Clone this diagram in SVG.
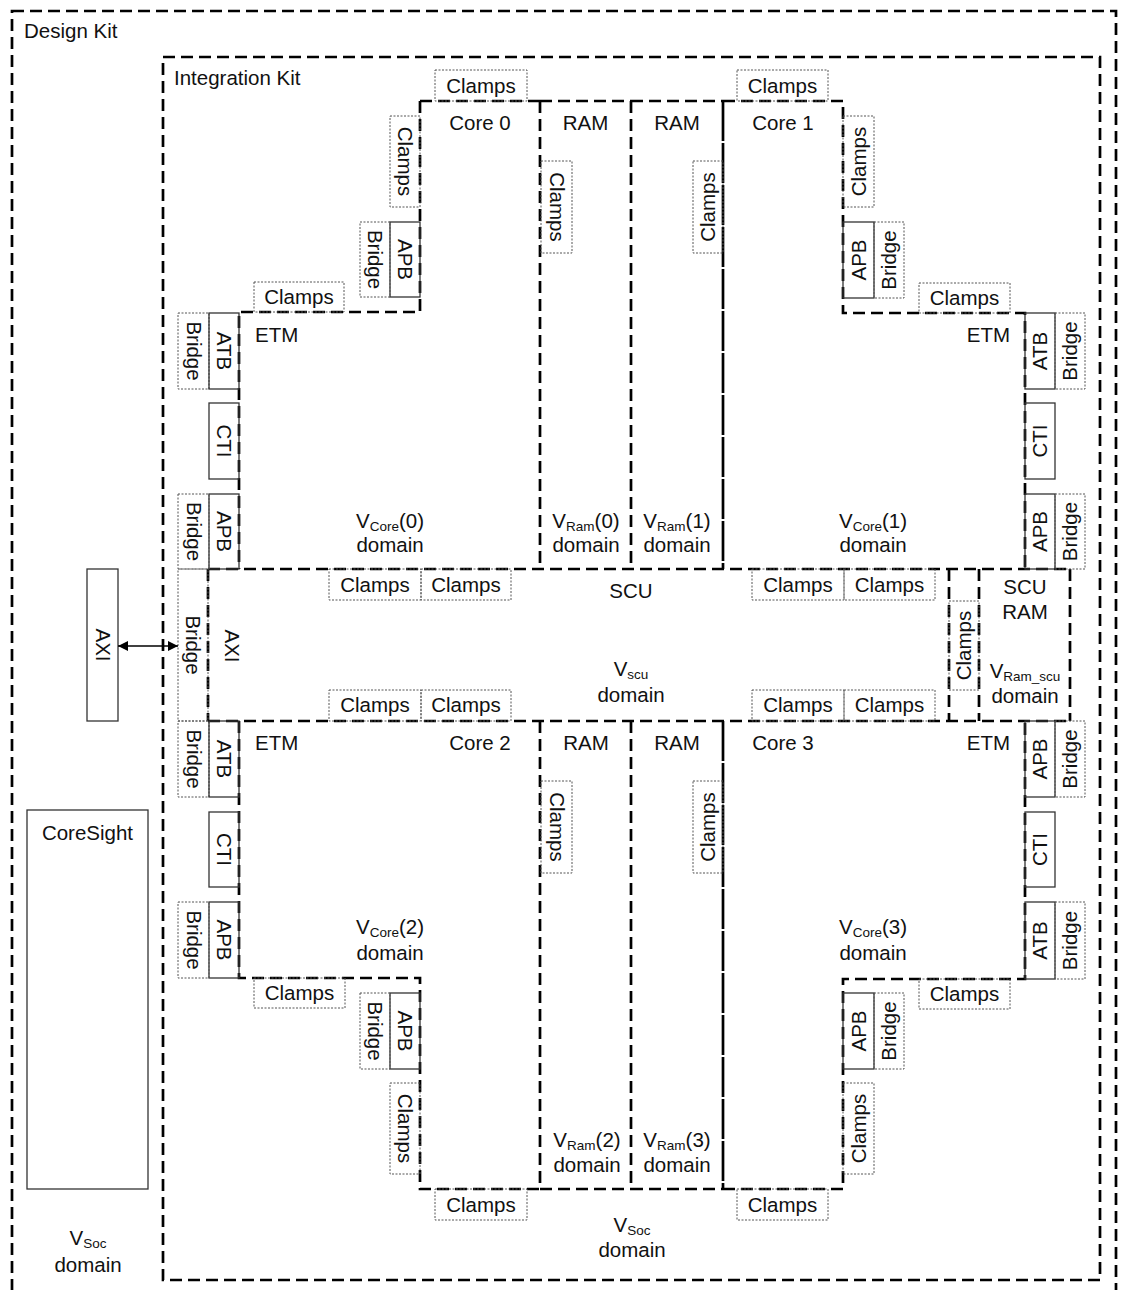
<svg xmlns="http://www.w3.org/2000/svg" width="1123" height="1290" viewBox="0 0 1123 1290">
<defs>
<style>
.b{fill:none;stroke:#000;stroke-width:2.7;stroke-dasharray:12 6}
.bs{fill:none;stroke:#000;stroke-width:2.7;stroke-dasharray:40 2}
.s{fill:none;stroke:#333;stroke-width:1.3}
.d{fill:none;stroke:#555;stroke-width:1;stroke-dasharray:2 1.5}
.t{font-family:"Liberation Sans",Arial,sans-serif;font-size:20.5px;fill:#111}
.m{text-anchor:middle}
.e{text-anchor:end}
.sub{font-size:13.5px}
</style>
<marker id="ah" viewBox="0 0 10 10" refX="10" refY="5" markerWidth="10" markerHeight="10" markerUnits="userSpaceOnUse" orient="auto-start-reverse">
<path d="M0,0 L10,5 L0,10 z" fill="#000"/>
</marker>
</defs>
<rect width="1123" height="1290" fill="#fff"/>

<g id="design-kit">
<rect class="b" x="12" y="11" width="1104" height="1300"/>
<text class="t" x="24" y="38">Design Kit</text>
<text class="t m" x="88" y="1245">V<tspan class="sub" dy="3">Soc</tspan></text>
<text class="t m" x="88" y="1272">domain</text>
</g>

<g id="integration-kit">
<rect class="b" x="163" y="57" width="937" height="1223"/>
<text class="t" x="174" y="85">Integration Kit</text>
<text class="t m" x="632" y="1232">V<tspan class="sub" dy="3">Soc</tspan></text>
<text class="t m" x="632" y="1257">domain</text>
</g>

<g id="core0">
<path class="b" d="M420,101 H540 M420,101 V312 H239 V569 M540,101 V569"/>
<text class="t m" x="480" y="130">Core 0</text>
<text class="t" x="255" y="342">ETM</text>
<text class="t m" x="390" y="528">V<tspan class="sub" dy="3">Core</tspan><tspan dy="-3">(0)</tspan></text>
<text class="t m" x="390" y="552">domain</text>
</g>
<g id="ram0">
<path class="b" d="M540,101 H631 M631,101 V569"/>
<text class="t m" x="585.5" y="130">RAM</text>
<text class="t m" x="586" y="528">V<tspan class="sub" dy="3">Ram</tspan><tspan dy="-3">(0)</tspan></text>
<text class="t m" x="586" y="552">domain</text>
</g>
<g id="ram1">
<path class="b" d="M631,101 H723"/>
<path class="bs" d="M723,101 V569"/>
<text class="t m" x="677" y="130">RAM</text>
<text class="t m" x="677" y="528">V<tspan class="sub" dy="3">Ram</tspan><tspan dy="-3">(1)</tspan></text>
<text class="t m" x="677" y="552">domain</text>
</g>
<g id="core1">
<path class="b" d="M723,101 H843 V313 H1025 V569"/>
<text class="t m" x="783" y="130">Core 1</text>
<text class="t e" x="1010" y="342">ETM</text>
<text class="t m" x="873" y="528">V<tspan class="sub" dy="3">Core</tspan><tspan dy="-3">(1)</tspan></text>
<text class="t m" x="873" y="552">domain</text>
</g>
<g id="scu">
<path class="b" d="M208,569 H1070 M208,721 H1070 M208,569 V721 M949,569 V721"/>
<text class="t m" x="631" y="598">SCU</text>
<text class="t m" x="631" y="676">V<tspan class="sub" dy="3">scu</tspan></text>
<text class="t m" x="631" y="702">domain</text>
<text class="t m" transform="translate(232 646) rotate(90)" y="7">AXI</text>
</g>
<g id="scu-ram">
<path class="b" d="M979,569 V721 M1070,569 V721"/>
<text class="t m" x="1025" y="594">SCU</text>
<text class="t m" x="1025" y="619">RAM</text>
<text class="t m" x="1025" y="678">V<tspan class="sub" dy="3">Ram_scu</tspan></text>
<text class="t m" x="1025" y="703">domain</text>
</g>
<g id="core2">
<path class="b" d="M239,721 V978 H420 V1189 H540 M540,721 V1189"/>
<text class="t m" x="480" y="750">Core 2</text>
<text class="t" x="255" y="750">ETM</text>
<text class="t m" x="390" y="934">V<tspan class="sub" dy="3">Core</tspan><tspan dy="-3">(2)</tspan></text>
<text class="t m" x="390" y="960">domain</text>
</g>
<g id="ram2">
<path class="b" d="M540,1189 H631 M631,721 V1189"/>
<text class="t m" x="586" y="750">RAM</text>
<text class="t m" x="587" y="1147">V<tspan class="sub" dy="3">Ram</tspan><tspan dy="-3">(2)</tspan></text>
<text class="t m" x="587" y="1172">domain</text>
</g>
<g id="ram3">
<path class="b" d="M631,1189 H723"/>
<path class="bs" d="M723,721 V1189"/>
<text class="t m" x="677" y="750">RAM</text>
<text class="t m" x="677" y="1147">V<tspan class="sub" dy="3">Ram</tspan><tspan dy="-3">(3)</tspan></text>
<text class="t m" x="677" y="1172">domain</text>
</g>
<g id="core3">
<path class="b" d="M723,1189 H843 V979 H1025 V721"/>
<text class="t m" x="783" y="750">Core 3</text>
<text class="t e" x="1010" y="750">ETM</text>
<text class="t m" x="873" y="934">V<tspan class="sub" dy="3">Core</tspan><tspan dy="-3">(3)</tspan></text>
<text class="t m" x="873" y="960">domain</text>
</g>

<!-- top row peripherals -->
<g id="clamps-c0-top"><rect class="d" x="435" y="70" width="92" height="31"/><text class="t m" x="481" y="93">Clamps</text></g>
<g id="clamps-c1-top"><rect class="d" x="737" y="70" width="91" height="31"/><text class="t m" x="782.5" y="93">Clamps</text></g>
<g id="clamps-c0-side"><rect class="d" x="390" y="116" width="30" height="91"/><text class="t m" transform="translate(405 161.5) rotate(90)" y="7">Clamps</text></g>
<g id="apb-c0"><rect class="s" x="390" y="222" width="30" height="75"/><text class="t m" transform="translate(405 259.5) rotate(90)" y="7">APB</text></g>
<g id="bridge-apb-c0"><rect class="d" x="360" y="222" width="30" height="75"/><text class="t m" transform="translate(375 259.5) rotate(90)" y="7">Bridge</text></g>
<g id="clamps-c0-etm"><rect class="d" x="254" y="282" width="90" height="30"/><text class="t m" x="299" y="304">Clamps</text></g>
<g id="bridge-atb-c0"><rect class="d" x="178" y="313" width="31" height="76"/><text class="t m" transform="translate(193.5 351) rotate(90)" y="7">Bridge</text></g>
<g id="atb-c0"><rect class="s" x="209" y="313" width="30" height="76"/><text class="t m" transform="translate(224 351) rotate(90)" y="7">ATB</text></g>
<g id="cti-c0"><rect class="s" x="209" y="403" width="30" height="76"/><text class="t m" transform="translate(224 441) rotate(90)" y="7">CTI</text></g>
<g id="apb-etm-c0"><rect class="s" x="209" y="494" width="30" height="75"/><text class="t m" transform="translate(224 531.5) rotate(90)" y="7">APB</text></g>
<g id="bridge-apb-etm-c0"><rect class="d" x="178" y="494" width="31" height="75"/><text class="t m" transform="translate(193.5 531.5) rotate(90)" y="7">Bridge</text></g>
<g id="clamps-ram0"><rect class="d" x="541" y="161" width="31" height="92"/><text class="t m" transform="translate(556.5 207) rotate(90)" y="7">Clamps</text></g>
<g id="clamps-ram1"><rect class="d" x="693" y="161" width="30" height="92"/><text class="t m" transform="translate(708 207) rotate(-90)" y="7">Clamps</text></g>
<g id="clamps-c1-side"><rect class="d" x="843" y="116" width="31" height="91"/><text class="t m" transform="translate(858.5 161.5) rotate(-90)" y="7">Clamps</text></g>
<g id="apb-c1"><rect class="s" x="843" y="222" width="31" height="76"/><text class="t m" transform="translate(858.5 260) rotate(-90)" y="7">APB</text></g>
<g id="bridge-apb-c1"><rect class="d" x="874" y="222" width="30" height="76"/><text class="t m" transform="translate(889 260) rotate(-90)" y="7">Bridge</text></g>
<g id="clamps-c1-etm"><rect class="d" x="919" y="283" width="91" height="30"/><text class="t m" x="964.5" y="305">Clamps</text></g>
<g id="atb-c1"><rect class="s" x="1025" y="313" width="30" height="76"/><text class="t m" transform="translate(1040 351) rotate(-90)" y="7">ATB</text></g>
<g id="bridge-atb-c1"><rect class="d" x="1055" y="313" width="30" height="76"/><text class="t m" transform="translate(1070 351) rotate(-90)" y="7">Bridge</text></g>
<g id="cti-c1"><rect class="s" x="1025" y="403" width="30" height="76"/><text class="t m" transform="translate(1040 441) rotate(-90)" y="7">CTI</text></g>
<g id="apb-etm-c1"><rect class="s" x="1025" y="494" width="30" height="75"/><text class="t m" transform="translate(1040 531.5) rotate(-90)" y="7">APB</text></g>
<g id="bridge-apb-etm-c1"><rect class="d" x="1055" y="494" width="30" height="75"/><text class="t m" transform="translate(1070 531.5) rotate(-90)" y="7">Bridge</text></g>

<!-- SCU peripherals -->
<g id="bridge-axi"><rect class="d" x="178" y="569" width="30" height="152"/><text class="t m" transform="translate(193 645) rotate(90)" y="7">Bridge</text></g>
<g id="clamps-scu-1"><rect class="d" x="329" y="569" width="92" height="31"/><text class="t m" x="375" y="592">Clamps</text></g>
<g id="clamps-scu-2"><rect class="d" x="421" y="569" width="90" height="31"/><text class="t m" x="466" y="592">Clamps</text></g>
<g id="clamps-scu-3"><rect class="d" x="752" y="569" width="92" height="31"/><text class="t m" x="798" y="592">Clamps</text></g>
<g id="clamps-scu-4"><rect class="d" x="844" y="569" width="91" height="31"/><text class="t m" x="889.5" y="592">Clamps</text></g>
<g id="clamps-scu-5"><rect class="d" x="329" y="690" width="92" height="31"/><text class="t m" x="375" y="712">Clamps</text></g>
<g id="clamps-scu-6"><rect class="d" x="421" y="690" width="90" height="31"/><text class="t m" x="466" y="712">Clamps</text></g>
<g id="clamps-scu-7"><rect class="d" x="752" y="690" width="92" height="31"/><text class="t m" x="798" y="712">Clamps</text></g>
<g id="clamps-scu-8"><rect class="d" x="844" y="690" width="91" height="31"/><text class="t m" x="889.5" y="712">Clamps</text></g>
<g id="clamps-scu-ram"><rect class="d" x="949" y="601" width="30" height="89"/><text class="t m" transform="translate(964 645.5) rotate(-90)" y="7">Clamps</text></g>
<g id="axi"><rect class="s" x="87" y="569" width="31" height="152"/><text class="t m" transform="translate(102.5 645) rotate(90)" y="7">AXI</text></g>
<g id="coresight"><rect class="s" x="27" y="810" width="121" height="379"/><text class="t m" x="87.5" y="840">CoreSight</text></g>

<!-- bottom row peripherals -->
<g id="bridge-atb-c2"><rect class="d" x="178" y="721" width="31" height="76"/><text class="t m" transform="translate(193.5 759) rotate(90)" y="7">Bridge</text></g>
<g id="atb-c2"><rect class="s" x="209" y="721" width="30" height="76"/><text class="t m" transform="translate(224 759) rotate(90)" y="7">ATB</text></g>
<g id="cti-c2"><rect class="s" x="209" y="812" width="30" height="75"/><text class="t m" transform="translate(224 849.5) rotate(90)" y="7">CTI</text></g>
<g id="apb-etm-c2"><rect class="s" x="209" y="902" width="30" height="76"/><text class="t m" transform="translate(224 940) rotate(90)" y="7">APB</text></g>
<g id="bridge-apb-etm-c2"><rect class="d" x="178" y="902" width="31" height="76"/><text class="t m" transform="translate(193.5 940) rotate(90)" y="7">Bridge</text></g>
<g id="clamps-c2-etm"><rect class="d" x="254" y="978" width="91" height="30"/><text class="t m" x="299.5" y="1000">Clamps</text></g>
<g id="apb-c2"><rect class="s" x="390" y="993" width="30" height="76"/><text class="t m" transform="translate(405 1031) rotate(90)" y="7">APB</text></g>
<g id="bridge-apb-c2"><rect class="d" x="360" y="993" width="30" height="76"/><text class="t m" transform="translate(375 1031) rotate(90)" y="7">Bridge</text></g>
<g id="clamps-c2-side"><rect class="d" x="390" y="1083" width="30" height="91"/><text class="t m" transform="translate(405 1128.5) rotate(90)" y="7">Clamps</text></g>
<g id="clamps-c2-bottom"><rect class="d" x="435" y="1189" width="92" height="31"/><text class="t m" x="481" y="1212">Clamps</text></g>
<g id="clamps-c3-bottom"><rect class="d" x="737" y="1189" width="91" height="31"/><text class="t m" x="782.5" y="1212">Clamps</text></g>
<g id="clamps-ram2"><rect class="d" x="541" y="781" width="31" height="92"/><text class="t m" transform="translate(556.5 827) rotate(90)" y="7">Clamps</text></g>
<g id="clamps-ram3"><rect class="d" x="693" y="781" width="30" height="92"/><text class="t m" transform="translate(708 827) rotate(-90)" y="7">Clamps</text></g>
<g id="apb-etm-c3"><rect class="s" x="1025" y="721" width="30" height="76"/><text class="t m" transform="translate(1040 759) rotate(-90)" y="7">APB</text></g>
<g id="bridge-apb-etm-c3"><rect class="d" x="1055" y="721" width="30" height="76"/><text class="t m" transform="translate(1070 759) rotate(-90)" y="7">Bridge</text></g>
<g id="cti-c3"><rect class="s" x="1025" y="812" width="30" height="75"/><text class="t m" transform="translate(1040 849.5) rotate(-90)" y="7">CTI</text></g>
<g id="atb-c3"><rect class="s" x="1025" y="902" width="30" height="77"/><text class="t m" transform="translate(1040 940.5) rotate(-90)" y="7">ATB</text></g>
<g id="bridge-atb-c3"><rect class="d" x="1055" y="902" width="30" height="77"/><text class="t m" transform="translate(1070 940.5) rotate(-90)" y="7">Bridge</text></g>
<g id="clamps-c3-etm"><rect class="d" x="919" y="979" width="91" height="30"/><text class="t m" x="964.5" y="1001">Clamps</text></g>
<g id="apb-c3"><rect class="s" x="843" y="993" width="31" height="76"/><text class="t m" transform="translate(858.5 1031) rotate(-90)" y="7">APB</text></g>
<g id="bridge-apb-c3"><rect class="d" x="874" y="993" width="30" height="76"/><text class="t m" transform="translate(889 1031) rotate(-90)" y="7">Bridge</text></g>
<g id="clamps-c3-side"><rect class="d" x="843" y="1083" width="31" height="91"/><text class="t m" transform="translate(858.5 1128.5) rotate(-90)" y="7">Clamps</text></g>

<g id="connectors">
<line x1="118" y1="646" x2="178" y2="646" stroke="#000" stroke-width="1.5" marker-start="url(#ah)" marker-end="url(#ah)"/>
</g>
</svg>
